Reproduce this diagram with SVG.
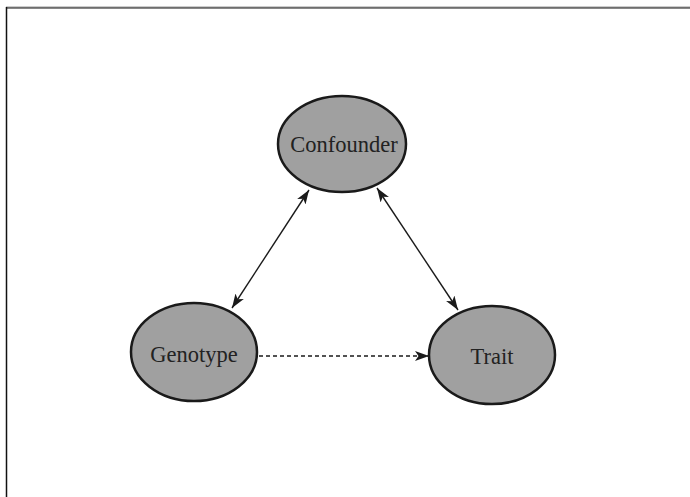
<svg xmlns="http://www.w3.org/2000/svg" width="690" height="497" viewBox="0 0 690 497">
  <defs>
    <marker id="head" viewBox="0 0 14 10" refX="14" refY="5" markerWidth="14" markerHeight="10" markerUnits="userSpaceOnUse" orient="auto-start-reverse">
      <path d="M0,0 L14,5 L0,10 L3.5,5 Z" fill="#1a1a1a"/>
    </marker>
  </defs>
  <style>
    .node ellipse { fill: #a0a0a0; stroke: #1a1a1a; stroke-width: 2.5; }
    .node text { font-family: "Liberation Serif", "Times New Roman", serif; font-size: 22.5px; fill: #222; text-anchor: middle; dominant-baseline: central; }
    .edge { stroke: #1a1a1a; stroke-width: 1.4; fill: none; }
    .dashed { stroke-dasharray: 4 3; }
  </style>
  <rect width="690" height="497" fill="#ffffff"/>
  <!-- frame -->
  <line x1="6" y1="7" x2="690" y2="7" stroke="#999" stroke-width="1"/>
  <line x1="6" y1="8" x2="690" y2="8" stroke="#111" stroke-width="1"/>
  <line x1="6.5" y1="7" x2="6.5" y2="497" stroke="#111" stroke-width="1.5"/>

  <g id="connectors">
    <line class="edge" x1="309" y1="190" x2="232" y2="308" marker-start="url(#head)" marker-end="url(#head)"/>
    <line class="edge" x1="377" y1="188" x2="458" y2="310" marker-start="url(#head)" marker-end="url(#head)"/>
    <line class="edge dashed" x1="259" y1="356" x2="429" y2="356" marker-end="url(#head)"/>
  </g>

  <g id="confounder" class="node">
    <ellipse cx="342" cy="144" rx="64" ry="48"/>
    <text x="344" y="144">Confounder</text>
  </g>
  <g id="genotype" class="node">
    <ellipse cx="194" cy="352" rx="63" ry="49"/>
    <text x="194" y="354">Genotype</text>
  </g>
  <g id="trait" class="node">
    <ellipse cx="492" cy="355" rx="63" ry="49"/>
    <text x="492" y="356">Trait</text>
  </g>
</svg>
